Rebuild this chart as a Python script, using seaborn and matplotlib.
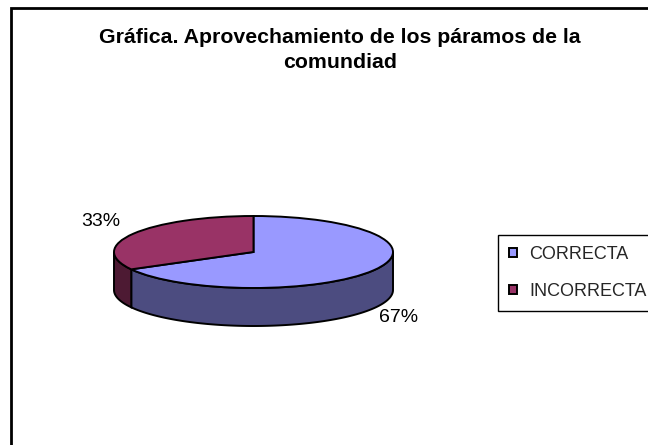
import numpy as np
import matplotlib
matplotlib.use("Agg")
import matplotlib.pyplot as plt
from matplotlib.patches import Rectangle
import seaborn as sns

# ---- data ----
categories = ["CORRECTA", "INCORRECTA"]
values = [67, 33]
top_colors = ["#9999FF", "#993366"]
side_colors = ["#4C4C80", "#4D1A33"]
title_text = "Gráfica. Aprovechamiento de los páramos de la\ncomundiad"

sns.set_theme(style="white")
plt.rcParams["font.family"] = ["Liberation Sans", "DejaVu Sans"]

W, H = 648, 445
fig = plt.figure(figsize=(W / 100, H / 100), dpi=100)
fig.patch.set_facecolor("white")

# geometry of the 3D pie (pixels)
cx, cy, rx, ry, depth = 253.5, 252.0, 139.5, 36.0, 38.0
d = depth / ry
pad = 0.25
x0, x1 = -1 - pad, 1 + pad
y0, y1 = -1 - d - pad, 1 + pad
left_px = cx + x0 * rx
right_px = cx + x1 * rx
top_px = cy - y1 * ry
bot_px = cy - y0 * ry
ax = fig.add_axes([left_px / W, 1 - bot_px / H, (right_px - left_px) / W, (bot_px - top_px) / H])

wedges, _ = ax.pie(values, colors=top_colors, startangle=90, counterclock=False,
                   wedgeprops=dict(edgecolor="black", linewidth=1.4))
for w in wedges:
    w.set_zorder(3)

# side walls (visible front half: angles -180..0 deg)
total = float(sum(values))
start = 90.0
for v, sc in zip(values, side_colors):
    end = start - 360.0 * v / total
    a, b = max(end, -180.0), min(start, 0.0)
    if b > a:
        t = np.radians(np.linspace(a, b, 200))
        xs = np.concatenate([np.cos(t), np.cos(t[::-1])])
        ys = np.concatenate([np.sin(t), np.sin(t[::-1]) - d])
        ax.fill(xs, ys, facecolor=sc, edgecolor="black", linewidth=1.4, zorder=2)
    start = end

ax.set_aspect("auto")
ax.set_xlim(x0, x1)
ax.set_ylim(y0, y1)
ax.axis("off")

# percentage labels
pct = [f"{v / total * 100:.0f}%" for v in values]
ax.text((399 - cx) / rx, (cy - 318) / ry, pct[0], ha="center", va="center", fontsize=14, color="black")
ax.text((101 - cx) / rx, (cy - 221) / ry, pct[1], ha="center", va="center", fontsize=14, color="black")

# title
fig.text(340 / W, 1 - 28 / H, title_text, ha="center", va="top", fontsize=15.3,
         fontweight="bold", linespacing=1.42, color="black")

# legend
leg = fig.legend(wedges, categories, loc="upper left",
                 bbox_to_anchor=(498 / W, 1 - 235 / H), borderaxespad=0,
                 frameon=True, fancybox=False, edgecolor="black", framealpha=1,
                 fontsize=13, handlelength=0.45, handleheight=0.45, handletextpad=0.7,
                 borderpad=0.6, labelspacing=1.12)
leg.get_frame().set_linewidth(1.0)

# chart area border
fig.add_artist(Rectangle((11 / W, -0.5), 2.0, 1.5 - 8 / H, transform=fig.transFigure,
                         fill=False, edgecolor="black", linewidth=2))

fig.savefig("out.png", dpi=100, facecolor="white")
